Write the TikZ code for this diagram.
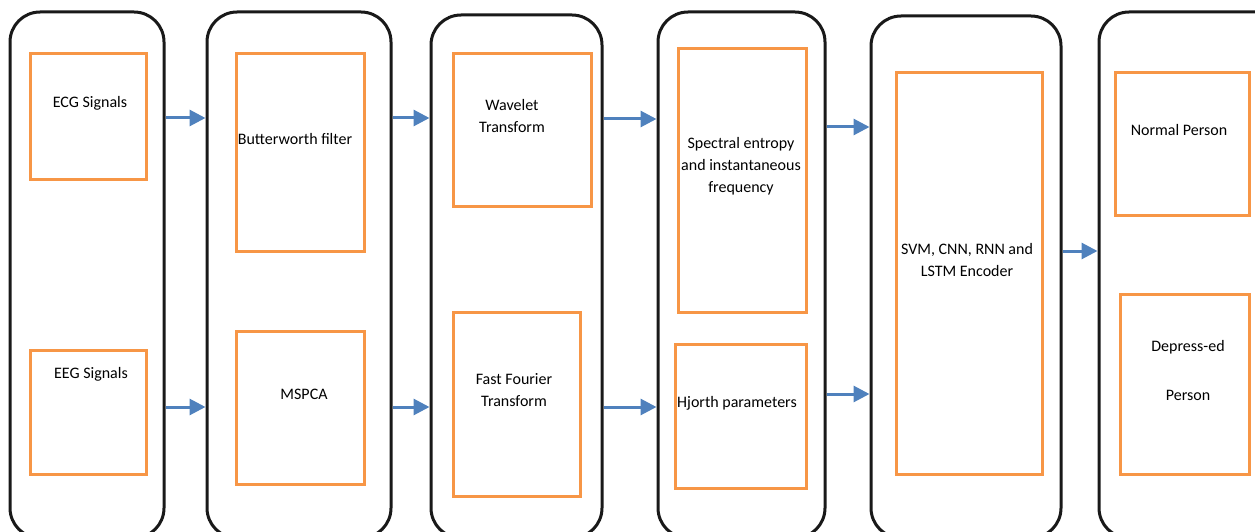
\documentclass[tikz,border=0pt]{standalone}
\usepackage{fontspec}
\setmainfont{Carlito}
\usepackage{tikz}
\usetikzlibrary{arrows.meta}
\definecolor{boxorange}{HTML}{F79646}
\definecolor{flowblue}{HTML}{4F81BD}
\tikzset{
  stage/.style={draw=black!90, line width=3pt, rounded corners=30pt, inner sep=0pt},
  item/.style={draw=boxorange, line width=3pt, inner sep=0pt},
  txt/.style={font=\fontsize{16}{22}\selectfont, align=center, inner sep=0pt},
  flow/.style={draw=flowblue, line width=3pt, -{Triangle[length=16pt,width=16pt]}}
}
\begin{document}
\begin{tikzpicture}[x=1pt,y=-1pt]
\useasboundingbox (0,0) rectangle (1255,532);
\clip (0,0) rectangle (1255,532);

% stages
\node[stage, minimum width=154pt, minimum height=526pt] (s1) at (87,275) {};
\node[stage, minimum width=184pt, minimum height=526pt] (s2) at (299,275) {};
\node[stage, minimum width=171pt, minimum height=523pt] (s3) at (516.5,276.5) {};
\node[stage, minimum width=167pt, minimum height=526pt] (s4) at (741.5,275) {};
\node[stage, minimum width=190pt, minimum height=522pt] (s5) at (966,277) {};
\node[stage, minimum width=191pt, minimum height=526pt] (s6) at (1194.5,275) {};

% boxes
\node[item, minimum width=116pt, minimum height=125pt] (ecg) at (88,116.5) {};
\node[item, minimum width=116pt, minimum height=124pt] (eeg) at (88,412) {};
\node[item, minimum width=128pt, minimum height=197pt] (bw) at (300,152.5) {};
\node[item, minimum width=128pt, minimum height=153pt] (mspca) at (300,407.5) {};
\node[item, minimum width=138pt, minimum height=152pt] (wav) at (522,130) {};
\node[item, minimum width=127pt, minimum height=184pt] (fft) at (516.5,404) {};
\node[item, minimum width=128pt, minimum height=263pt] (spec) at (742,180.5) {};
\node[item, minimum width=131pt, minimum height=144pt] (hj) at (740.5,416) {};
\node[item, minimum width=146pt, minimum height=401pt] (svm) at (969,273.5) {};
\node[item, minimum width=134pt, minimum height=142pt] (norm) at (1182,144) {};
\node[item, minimum width=129pt, minimum height=180pt] (dep) at (1184.5,384) {};

% texts
\node[txt] (ecgt) at (90,103) {ECG Signals};
\node[txt] (eegt) at (91,374) {EEG Signals};
\node[txt] (bwt) at (295,139) {Butterworth filter};
\node[txt] (mspcat) at (304,394) {MSPCA};
\node[txt] (wavt) at (512,116) {Wavelet\\Transform};
\node[txt] (fftt) at (514,390) {Fast Fourier\\Transform};
\node[txt] (spect) at (741,166.5) {Spectral entropy\\and instantaneous\\frequency};
\node[txt] (hjt) at (737,403) {Hjorth parameters};
\node[txt] (svmt) at (967,260) {SVM, CNN, RNN and\\LSTM Encoder};
\node[txt] (normt) at (1179,130) {Normal Person};
\node[txt] (dept) at (1188,370.5) {Depress-ed\\[27pt]Person};

% arrows
\draw[flow] (s1.east |- 0,118) -- (s2.west |- 0,118);
\draw[flow] (s1.east |- 0,407) -- (s2.west |- 0,407);
\draw[flow] (s2.east |- 0,118) -- (s3.west |- 0,118);
\draw[flow] (s2.east |- 0,407) -- (s3.west |- 0,407);
\draw[flow] (s3.east |- 0,119) -- (s4.west |- 0,119);
\draw[flow] (s3.east |- 0,407) -- (s4.west |- 0,407);
\draw[flow] (s4.east |- 0,127) -- (s5.west |- 0,127);
\draw[flow] (s4.east |- 0,394) -- (s5.west |- 0,394);
\draw[flow] (s5.east |- 0,251) -- (s6.west |- 0,251);
\end{tikzpicture}
\end{document}
